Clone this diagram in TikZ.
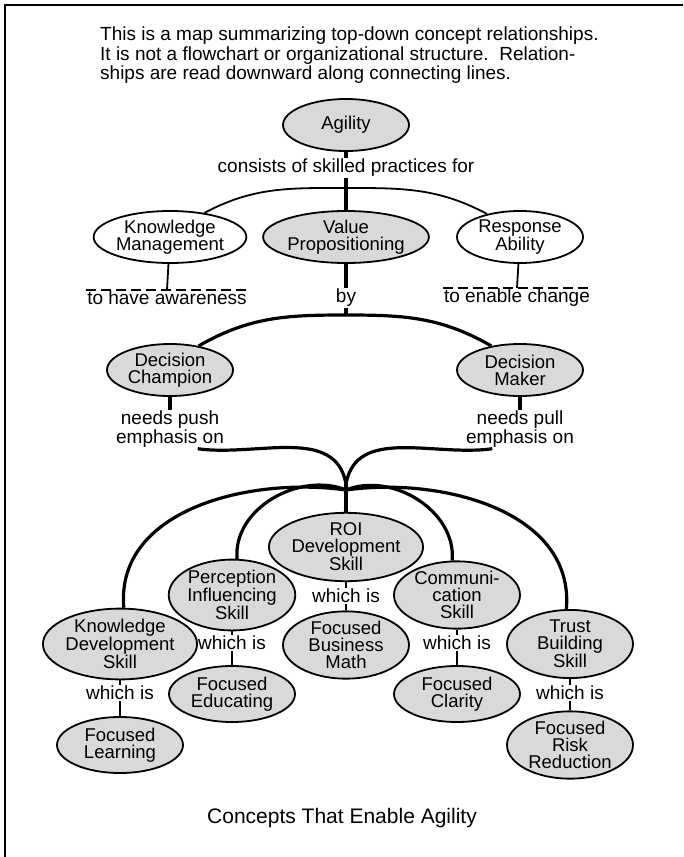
\documentclass[tikz,border=0pt]{standalone}
\usepackage{fontspec}
\setmainfont{Liberation Sans}
\usetikzlibrary{shapes.geometric,positioning}

\begin{document}
\begin{tikzpicture}[x=1pt, y=-1pt,
  concept/.style={ellipse, draw=black, line width=1.8pt, fill=gray!30,
                  minimum width=126pt, minimum height=52pt, inner sep=0pt,
                  align=center, font=\fontsize{18.5}{17}\selectfont},
  plain/.style={concept, fill=white},
  lbl/.style={align=center, inner sep=1pt, font=\fontsize{19}{16}\selectfont},
  link/.style={line width=3.2pt},
  tie/.style={line width=1.8pt},
  frame/.style={line width=1.2pt},
]
\useasboundingbox (0,0) rectangle (683,857);
\draw[frame] (683,5) -- (5,5) -- (5,857);

\node[anchor=north west, align=left, inner sep=0pt,
      font=\fontsize{19}{19.5}\selectfont] (intro) at (100,27)
  {This is a map summarizing top-down concept relationships.\\
   It is not a flowchart or organizational structure.\ \ Relation-\\
   ships are read downward along connecting lines.};

% top of the map
\node[concept, minimum height=52pt] (agility) at (346,125) {Agility};
\node[lbl] (consists) at (346,168) {consists of skilled practices for};

\node[plain]   (km) at (170,237) {Knowledge\\Management};
\node[concept] (vp) at (346,237) {Value\\Propositioning};
\node[plain]   (ra) at (520,237) {Response\\Ability};

\node[lbl] (kmlbl) at (167,298) {to have awareness};
\node[lbl] (by)    at (346,298) {by};
\node[lbl] (ralbl) at (517,298) {to enable change};

\node[concept] (dc) at (170,370) {Decision\\Champion};
\node[concept] (dm) at (520,370) {Decision\\Maker};

\node[lbl, below=13pt of dc] (pushlbl) {needs push\\emphasis on};
\node[lbl, below=13pt of dm] (pulllbl) {needs pull\\emphasis on};

\coordinate (j1) at (346,188);
\coordinate (j2) at (346,315);
\coordinate (j3) at (346,484);
\coordinate (j4) at (346,490);

% skills
\node[concept, minimum height=56pt] (kds) at (120,644) {Knowledge\\Development\\Skill};
\node[concept, minimum height=58pt] (pis) at (232,595) {Perception\\Influencing\\Skill};
\node[concept, minimum height=56pt] (roi) at (346,547) {ROI\\Development\\Skill};
\node[concept, minimum height=58pt] (cs)  at (457,595) {Communi-\\cation\\Skill};
\node[concept, minimum height=56pt] (tbs) at (570,644) {Trust\\Building\\Skill};

\node[lbl] (kdsis) at (120,693) {which is};
\node[lbl] (pisis) at (232,643) {which is};
\node[lbl] (roiis) at (346,596) {which is};
\node[lbl] (csis)  at (457,643) {which is};
\node[lbl] (tbsis) at (570,693) {which is};

\node[concept, minimum height=56pt] (fl)  at (120,745) {Focused\\Learning};
\node[concept, minimum height=56pt] (fe)  at (232,694) {Focused\\Educating};
\node[concept, minimum height=58pt] (fbm) at (346,645) {Focused\\Business\\Math};
\node[concept, minimum height=56pt] (fc)  at (457,694) {Focused\\Clarity};
\node[concept, minimum height=62pt] (frr) at (570,745) {Focused\\Risk\\Reduction};

\node[lbl, font=\fontsize{21}{21}\selectfont] (caption) at (342,818) {Concepts That Enable Agility};

% connecting lines
\draw[link] (agility) -- (consists.north);
\draw[link] (consists) -- (vp);
\draw[tie] (km.35) to[out=28, in=180] (j1) to[out=0, in=152] (ra.145);

\draw[tie] (km) -- (kmlbl.north);
\draw[tie] (ra) -- (ralbl.north);
\draw[tie, dash pattern=on 10pt off 5pt] (kmlbl.north west) -- (kmlbl.north east);
\draw[tie, dash pattern=on 10pt off 5pt] (ralbl.north west) -- (ralbl.north east);

\draw[link] (vp) -- (by);
\draw[link] (by) -- (j2);
\draw[link] (dc.40) to[out=30, in=180] (j2) to[out=0, in=150] (dm.140);

\draw[link] (dc) -- (pushlbl.north);
\draw[link] (dm) -- (pulllbl.north);
\draw[link] (pushlbl.-35) to[out=-8, in=100] (j3);
\draw[link] (pulllbl.-145) to[out=188, in=80] (j3);

\draw[link] (j3) -- (roi);
\draw[link] (j4) to[out=172, in=95] (kds.84);
\draw[link] (j4) to[out=158, in=95] (pis.82);
\draw[link] (j4) to[out=22, in=85] (cs.98);
\draw[link] (j4) to[out=8, in=85] (tbs.96);

\foreach \s/\f in {kds/fl, pis/fe, roi/fbm, cs/fc, tbs/frr} {
  \draw[tie] (\s) -- (\s is);
  \draw[tie] (\s is) -- (\f);
}
\end{tikzpicture}
\end{document}
